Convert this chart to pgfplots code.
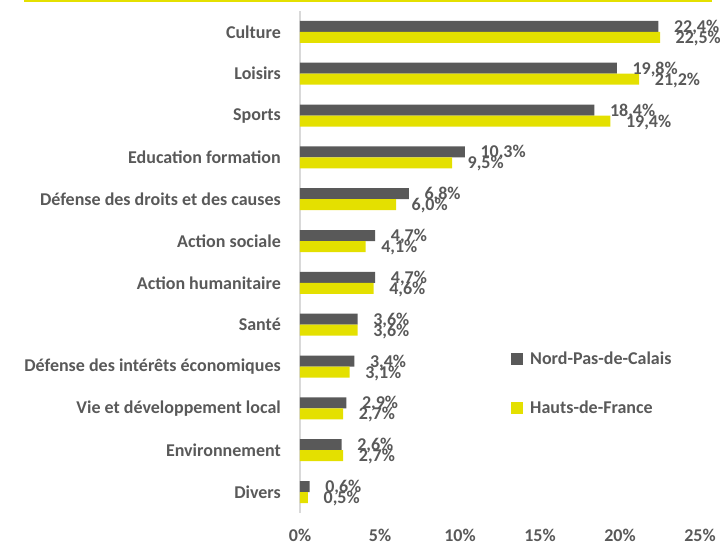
\documentclass[border=0pt]{standalone}
\usepackage{pgfplots}
\pgfplotsset{compat=1.18}
\usepackage{fontspec}
\setmainfont{Carlito}
\definecolor{dk}{RGB}{89,89,89}
\definecolor{yl}{RGB}{228,224,0}
\definecolor{tx}{RGB}{89,89,89}
\definecolor{axc}{RGB}{217,217,217}
\pgfplotstableread{
y npdc hdf
11 22.4 22.5
10 19.8 21.2
9 18.4 19.4
8 10.3 9.5
7 6.8 6.0
6 4.7 4.1
5 4.7 4.6
4 3.6 3.6
3 3.4 3.1
2 2.9 2.7
1 2.6 2.7
0 0.6 0.5
}\datatable
\begin{document}
\begin{tikzpicture}[x=1pt,y=1pt]
\useasboundingbox (0,0) rectangle (720,545);
\draw[yl, line width=2.4pt] (24,543.8) -- (712,543.8);
\begin{axis}[
 at={(300pt,32pt)}, anchor=south west,
 scale only axis, width=400pt, height=502pt,
 xmin=0, xmax=25, ymin=-0.5, ymax=11.5,
 xbar, bar width=11pt,
 axis lines*=left,
 x axis line style={draw=none},
 y axis line style={draw=axc, line width=1.5pt},
 major tick length=0pt,
 tick style={draw=none},
 xtick={0,5,10,15,20,25},
 xticklabels={0\%,5\%,10\%,15\%,20\%,25\%},
 ytick={0,...,11},
 yticklabels={Divers,Environnement,Vie et développement local,Défense des intérêts économiques,Santé,Action humanitaire,Action sociale,Défense des droits et des causes,Education formation,Sports,Loisirs,Culture},
 every tick label/.append style={font=\fontsize{18}{21}\selectfont\bfseries, text=tx},
 xticklabel style={anchor=base, inner sep=0pt, yshift=-28.5pt},
 yticklabel style={anchor=east, inner sep=0pt, xshift=-19pt},
 nodes near coords={\pgfmathprintnumber[fixed,fixed zerofill,precision=1,use comma,assume math mode=true]{\pgfplotspointmeta}\%},
 nodes near coords style={font=\fontsize{18}{21}\selectfont\bfseries, text=tx, anchor=west, inner sep=0pt, xshift=15.5pt, yshift=-1pt},
 legend image code/.code={\fill[#1] (0pt,-6pt) rectangle (12pt,6pt);},
 legend style={draw=none, fill=none, at={(0.5275,0.325)}, anchor=north west, inner sep=0pt,
   font=\fontsize{18}{21}\selectfont\bfseries, text=tx, row sep=31pt,
   /tikz/every odd column/.append style={column sep=5pt}},
 legend cell align=left,
]
\addplot[draw=none, fill=dk, bar shift=5.5pt] table[x=npdc, y=y] {\datatable};
\addplot[draw=none, fill=yl, bar shift=-5.5pt] table[x=hdf, y=y] {\datatable};
\legend{Nord-Pas-de-Calais, Hauts-de-France}
\end{axis}
\end{tikzpicture}
\end{document}
